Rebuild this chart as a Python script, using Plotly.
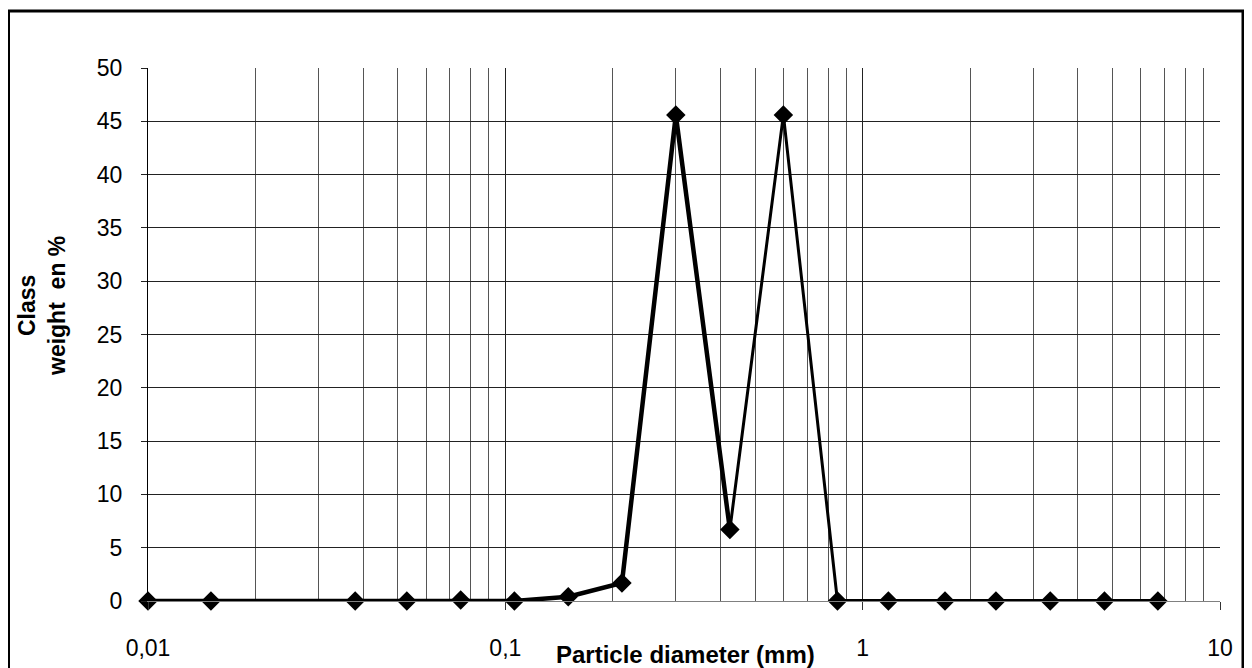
import plotly.graph_objects as go

# Data
diameters = [0.01, 0.015, 0.038, 0.053, 0.075, 0.106, 0.15, 0.212, 0.3, 0.425,
             0.6, 0.85, 1.18, 1.7, 2.36, 3.35, 4.75, 6.7]
class_weight = [0, 0, 0, 0, 0.1, 0, 0.4, 1.7, 45.6, 6.7,
                45.6, 0, 0, 0, 0, 0, 0, 0]
x_tick_vals = [0.01, 0.1, 1, 10]
x_tick_text = ["0,01", "0,1", "1", "10"]
y_tick_vals = [0, 5, 10, 15, 20, 25, 30, 35, 40, 45, 50]

minor_vals = [m * d for d in (0.01, 0.1, 1) for m in range(2, 10)]

# page body margin offset (figure is drawn at 8,8 in the page)
O = 8
W, H = 1252 - O, 668 - O
# plot area in screen pixels: left 148, right 1220, top 68, bottom 601
L = 148 - O
T = 68 - O
R = W - (1220 - O)
B = H - (601 - O)
pw, ph = W - L - R, H - T - B


def px(xs):
    return (xs - 148) / pw


def py(ys):
    return (601 - ys) / ph


FONT = "Liberation Sans, Arial, sans-serif"
FS = 23

fig = go.Figure()
segs = [(0, 10, 4.5), (9, 12, 3), (11, len(diameters), 4)]
for a, b, w in segs:
    fig.add_trace(go.Scatter(x=diameters[a:b], y=class_weight[a:b], mode="lines",
                             line=dict(color="black", width=w), showlegend=False,
                             hoverinfo="skip", cliponaxis=False))
fig.add_trace(go.Scatter(x=diameters, y=class_weight, mode="markers",
                         marker=dict(symbol="diamond", size=15, color="black"),
                         showlegend=False, cliponaxis=False))

fig.update_layout(
    width=W, height=H,
    margin=dict(l=L, r=R, t=T, b=B, autoexpand=False),
    paper_bgcolor="white", plot_bgcolor="white",
    font=dict(family=FONT, size=FS, color="black"),
    xaxis=dict(type="log", range=[-2, 1], tickvals=x_tick_vals, ticktext=x_tick_text,
               showgrid=True, gridcolor="#222", gridwidth=1,
               minor=dict(tickvals=minor_vals, showgrid=True, gridcolor="#555",
                          gridwidth=1, ticks=""),
               ticks="outside", ticklen=8, tickcolor="#333", tickwidth=1,
               ticklabelstandoff=18, automargin=False,
               showline=True, linecolor="#808080", linewidth=1, mirror=False,
               zeroline=False, tickfont=dict(size=FS)),
    yaxis=dict(range=[0, 50], tickvals=y_tick_vals,
               showgrid=True, gridcolor="#222", gridwidth=1,
               ticks="outside", ticklen=6, tickcolor="#222", tickwidth=1,
               ticklabelstandoff=14, automargin=False,
               showline=True, linecolor="black", linewidth=1,
               zeroline=False, tickfont=dict(size=FS)),
    annotations=[
        dict(text="<b>Particle diameter (mm)</b>", xref="paper", yref="paper",
             x=px(685), y=py(654), xanchor="center", yanchor="middle",
             showarrow=False, font=dict(family=FONT, size=FS + 1, color="black")),
        dict(text="<b>Class<br>weight  en %</b>", xref="paper", yref="paper",
             x=px(42), y=py(306), xanchor="center", yanchor="middle",
             textangle=-90, showarrow=False,
             font=dict(family=FONT, size=FS, color="black")),
    ],
    shapes=[dict(type="rect", xref="paper", yref="paper",
                 x0=px(8.5), x1=px(1243),
                 y0=py(700), y1=py(11),
                 line=dict(color="black", width=3), fillcolor="rgba(0,0,0,0)")],
)

fig.write_html("out.html")
